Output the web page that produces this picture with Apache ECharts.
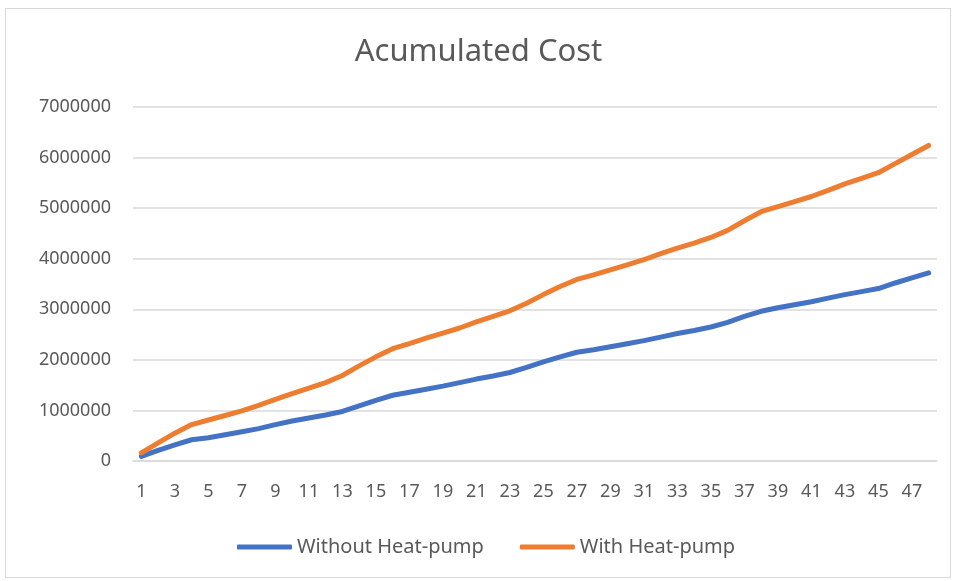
<!DOCTYPE html>
<html>
<head>
<meta charset="utf-8">
<script src="https://cdn.jsdelivr.net/npm/echarts@6/dist/echarts.min.js"></script>
<style>
  html, body { margin: 0; padding: 0; background: #fff; }
  #main { position: absolute; left: 0; top: 0; width: 957px; height: 581px; }
  .frame { position: absolute; left: 5px; top: 8px; width: 944px; height: 568px; border: 1px solid #d9d9d9; pointer-events: none; }
</style>
</head>
<body>
<div id="main"></div>
<div class="frame"></div>
<script>
// 48 periods
const periods = Array.from({ length: 48 }, (_, i) => String(i + 1));

const withoutHeatPump = [
  90000, 210000, 320000, 420000, 460000, 520000, 580000, 640000, 720000, 790000,
  850000, 910000, 980000, 1090000, 1200000, 1300000, 1360000, 1420000, 1480000, 1550000,
  1620000, 1680000, 1750000, 1850000, 1960000, 2060000, 2150000, 2200000, 2260000, 2320000,
  2380000, 2450000, 2520000, 2580000, 2650000, 2740000, 2860000, 2960000, 3030000, 3090000,
  3150000, 3220000, 3290000, 3350000, 3410000, 3520000, 3620000, 3720000
];

const withHeatPump = [
  160000, 360000, 550000, 720000, 810000, 900000, 990000, 1100000, 1220000, 1330000,
  1440000, 1550000, 1690000, 1880000, 2060000, 2220000, 2320000, 2430000, 2530000, 2630000,
  2750000, 2860000, 2970000, 3120000, 3290000, 3450000, 3590000, 3680000, 3780000, 3880000,
  3980000, 4100000, 4210000, 4310000, 4420000, 4560000, 4750000, 4930000, 5030000, 5130000,
  5230000, 5350000, 5480000, 5590000, 5700000, 5880000, 6060000, 6240000
];

const textColor = '#595959';
const font = '"Noto Sans", "Open Sans", sans-serif';

const chart = echarts.init(document.getElementById('main'));

chart.setOption({
  animation: false,
  backgroundColor: '#fff',
  title: {
    text: 'Acumulated Cost',
    left: 'center',
    top: 32,
    textStyle: { color: textColor, fontSize: 31, fontWeight: 'normal', fontFamily: font }
  },
  legend: {
    left: 232,
    top: 532,
    itemWidth: 55,
    itemHeight: 5,
    itemGap: 36,
    icon: 'roundRect',
    textStyle: { color: textColor, fontSize: 20, fontFamily: font }
  },
  grid: { left: 133, right: 20, top: 107, bottom: 120 },
  xAxis: {
    type: 'category',
    data: periods,
    boundaryGap: true,
    axisLine: { lineStyle: { color: '#d9d9d9', width: 1.5 } },
    axisTick: { show: false },
    axisLabel: { interval: 1, margin: 22, color: textColor, fontSize: 18, fontFamily: font }
  },
  yAxis: {
    type: 'value',
    min: 0,
    max: 7000000,
    interval: 1000000,
    axisLine: { show: false },
    axisTick: { show: false },
    splitLine: { lineStyle: { color: '#d9d9d9', width: 1.5 } },
    axisLabel: {
      margin: 22,
      color: textColor,
      fontSize: 18,
      fontFamily: font,
      formatter: v => String(v)
    }
  },
  series: [
    {
      name: 'Without Heat-pump',
      type: 'line',
      data: withoutHeatPump,
      symbol: 'none',
      color: '#4472C4',
      lineStyle: { width: 5, cap: 'round', join: 'round' }
    },
    {
      name: 'With Heat-pump',
      type: 'line',
      data: withHeatPump,
      symbol: 'none',
      color: '#ED7D31',
      lineStyle: { width: 5, cap: 'round', join: 'round' }
    }
  ]
});
</script>
</body>
</html>
